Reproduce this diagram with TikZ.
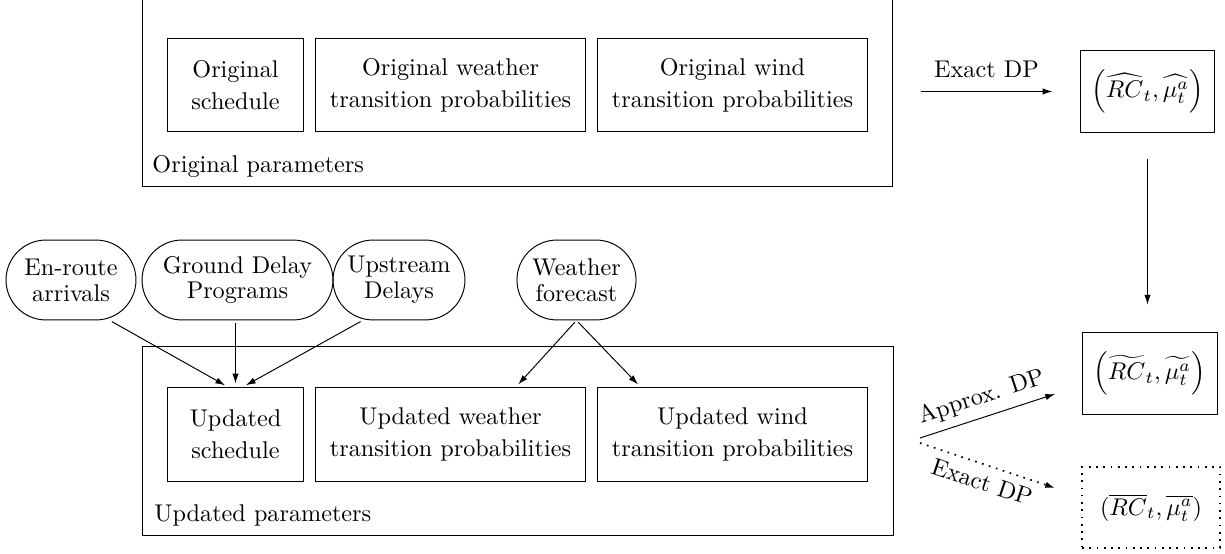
\documentclass[tikz,border=0pt]{standalone}
\usepackage{amsmath}
\usetikzlibrary{shapes.misc,arrows.meta}
\begin{document}
\begin{tikzpicture}[x=0.4132pt,y=-0.4132pt,
  box/.style={draw, rectangle, inner sep=0pt, align=center, minimum height=38.8pt, font=\fontsize{10}{13.2}\selectfont},
  outer/.style={draw, rectangle, inner sep=0pt},
  pill/.style={draw, rounded rectangle, inner sep=0pt, minimum height=33pt, align=center, font=\fontsize{10}{10.7}\selectfont},
  res/.style={draw, rectangle, inner sep=0pt, minimum height=33.5pt},
  arr/.style={-{Latex[length=4pt,width=2.6pt]}},
  lbl/.style={anchor=base west, inner sep=0pt}]
\useasboundingbox (0,0) rectangle (1225,554);

% Original parameters
\node[outer, minimum width=309.9pt, minimum height=78.1pt] (orig) at (517,91.5) {};
\node[box, minimum width=55.8pt] (osch) at (235.5,85) {Original\\schedule};
\node[box, minimum width=111.2pt] (owea) at (450.5,85) {Original weather\\transition probabilities};
\node[box, minimum width=111.2pt] (owin) at (732.5,85) {Original wind\\transition probabilities};
\node[lbl] (olbl) at (152,173) {Original parameters};

% Updated parameters
\node[outer, minimum width=310.3pt, minimum height=77.7pt] (upd) at (517.5,441) {};
\node[box, minimum width=55.8pt] (usch) at (235.5,434.5) {Updated\\schedule};
\node[box, minimum width=111.2pt] (uwea) at (450.5,434.5) {Updated weather\\transition probabilities};
\node[box, minimum width=111.2pt] (uwin) at (732.5,434.5) {Updated wind\\transition probabilities};
\node[lbl] (ulbl) at (154,522) {Updated parameters};

% Inputs
\node[pill, minimum width=53.7pt] (enr) at (71,280) {En-route\\arrivals};
\node[pill, minimum width=78.9pt] (gdp) at (237.5,280) {Ground Delay\\Programs};
\node[pill, minimum width=54.5pt] (ups) at (399,280) {Upstream\\Delays};
\node[pill, minimum width=49.2pt] (wfc) at (576.5,280) {Weather\\forecast};

% Results
\node[res, minimum width=55pt] (hat) at (1147.5,91.5) {$\left(\widehat{RC}_t,\widehat{\mu_t^a}\right)$};
\node[res, minimum width=55.8pt] (til) at (1149.5,373.5) {$\left(\widetilde{RC}_t,\widetilde{\mu_t^a}\right)$};
\node[res, minimum width=57pt, line width=0.7pt, dash pattern=on 0.7pt off 2.3pt] (bar) at (1151,507.5) {$(\overline{RC}_t,\overline{\mu_t^a})$};

% Connectors
\draw[arr, shorten <=11.6pt, shorten >=11.6pt] (orig) -- node[above=2pt] {Exact DP} (hat);
\draw[arr, shorten <=11pt, shorten >=11.5pt] (hat.south) -- (hat.south |- til.north);

\coordinate (s1) at (920,438);
\coordinate (e1) at (1055,394);
\coordinate (s2) at (920,443);
\coordinate (e2) at (1055,488);
\draw[arr] (s1) -- node[sloped, above] {Approx. DP} (e1);
\draw[arr, line width=0.7pt, dash pattern=on 0.7pt off 2.3pt] (s2) -- node[sloped, below] {Exact DP} (e2);

\draw[arr, shorten <=1pt, shorten >=1.5pt] ([xshift=16pt]enr.south) -- ([xshift=-3pt]usch.north);
\draw[arr, shorten <=1pt, shorten >=1.5pt] (usch.north |- gdp.south) -- (usch.north);
\draw[arr, shorten <=1pt, shorten >=1.5pt] ([xshift=-15pt]ups.south) -- ([xshift=3pt]usch.north);
\draw[arr, shorten <=1pt, shorten >=1.5pt] (wfc.south) -- ([xshift=27pt]uwea.north);
\draw[arr, shorten <=1pt, shorten >=1.5pt] (wfc.south) -- ([xshift=-38pt]uwin.north);
\end{tikzpicture}
\end{document}
